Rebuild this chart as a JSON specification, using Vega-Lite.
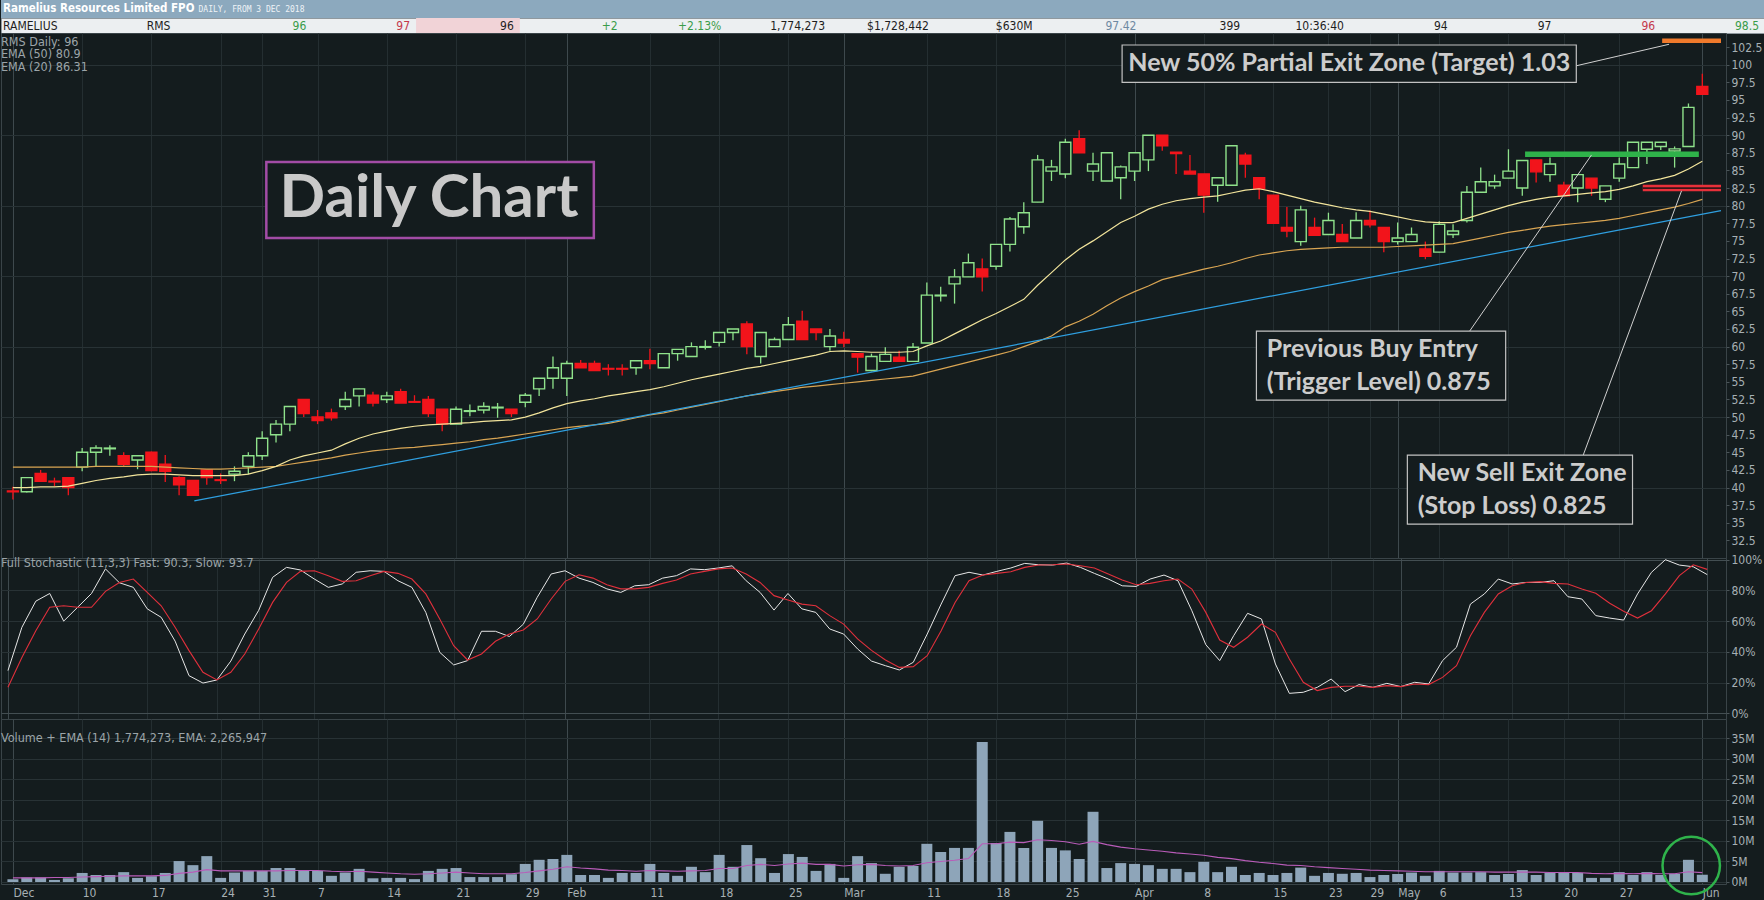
{
  "$schema": "https://vega.github.io/schema/vega-lite/v6.json",
  "background": "#141c1e",
  "padding": 0,
  "spacing": 0,
  "bounds": "flush",
  "datasets": {
    "heading": [
      {"part": "name", "col": "c0", "label": "Ramelius Resources Limited FPO"},
      {"part": "range", "col": "c2", "label": "DAILY, FROM 3 DEC 2018"}
    ],
    "quote": [
      {"col": "c0", "label": "RAMELIUS", "kind": "name", "tone": "flat"},
      {"col": "c1", "label": "RMS", "kind": "code", "tone": "flat"},
      {"col": "c2", "label": "96", "kind": "value", "tone": "up"},
      {"col": "c3", "label": "97", "kind": "value", "tone": "down"},
      {"col": "c4", "label": "96", "kind": "last", "tone": "flat"},
      {"col": "c5", "label": "+2", "kind": "value", "tone": "up"},
      {"col": "c6", "label": "+2.13%", "kind": "value", "tone": "up"},
      {"col": "c7", "label": "1,774,273", "kind": "value", "tone": "flat"},
      {"col": "c8", "label": "$1,728,442", "kind": "value", "tone": "flat"},
      {"col": "c9", "label": "$630M", "kind": "value", "tone": "flat"},
      {"col": "c10", "label": "97.42", "kind": "value", "tone": "avg"},
      {"col": "c11", "label": "399", "kind": "value", "tone": "flat"},
      {"col": "c12", "label": "10:36:40", "kind": "value", "tone": "flat"},
      {"col": "c13", "label": "94", "kind": "value", "tone": "flat"},
      {"col": "c14", "label": "97", "kind": "value", "tone": "flat"},
      {"col": "c15", "label": "96", "kind": "value", "tone": "down"},
      {"col": "c16", "label": "98.5", "kind": "value", "tone": "up"}
    ],
    "bars": [
      {"day":0,"open":39.5,"high":40.1,"low":38.3,"close":39.4,"ema20":40.0,"ema50":42.9,"k":27.8,"d":17,"vol":0.65,"vema":1.0},
      {"day":1,"open":39.4,"high":41.5,"low":39.3,"close":41.4,"ema20":40.0,"ema50":42.9,"k":56,"d":36.4,"vol":1.1,"vema":1.0},
      {"day":2,"open":42.0,"high":42.5,"low":40.8,"close":40.9,"ema20":40.1,"ema50":42.9,"k":73,"d":53.8,"vol":1.1,"vema":1.0},
      {"day":3,"open":40.9,"high":41.4,"low":40.2,"close":40.8,"ema20":40.1,"ema50":42.9,"k":78,"d":69,"vol":0.5,"vema":1.1},
      {"day":4,"open":41.4,"high":41.5,"low":38.9,"close":40.0,"ema20":40.2,"ema50":42.9,"k":60,"d":70,"vol":0.9,"vema":1.1},
      {"day":5,"open":42.9,"high":45.6,"low":42.3,"close":45.0,"ema20":40.6,"ema50":42.9,"k":69,"d":69,"vol":2.2,"vema":1.2},
      {"day":6,"open":45.0,"high":46.0,"low":42.9,"close":45.6,"ema20":41.0,"ema50":43.0,"k":78,"d":69,"vol":1.7,"vema":1.3},
      {"day":7,"open":45.5,"high":46.0,"low":44.5,"close":45.6,"ema20":41.3,"ema50":43.0,"k":94,"d":79.4,"vol":1.7,"vema":1.4},
      {"day":8,"open":44.5,"high":45.0,"low":42.9,"close":43.3,"ema20":41.5,"ema50":43.0,"k":85,"d":85.2,"vol":2.4,"vema":1.5},
      {"day":9,"open":43.9,"high":44.6,"low":42.6,"close":44.5,"ema20":41.8,"ema50":43.0,"k":82,"d":87.4,"vol":1.0,"vema":1.5},
      {"day":10,"open":45.0,"high":45.1,"low":42.3,"close":42.4,"ema20":41.9,"ema50":43.0,"k":68,"d":78.7,"vol":1.4,"vema":1.5},
      {"day":11,"open":43.3,"high":44.6,"low":40.8,"close":42.3,"ema20":41.9,"ema50":42.9,"k":62.5,"d":70,"vol":2.2,"vema":1.6},
      {"day":12,"open":41.4,"high":41.6,"low":38.9,"close":40.4,"ema20":41.8,"ema50":42.8,"k":47,"d":56,"vol":5.1,"vema":2.1},
      {"day":13,"open":41.0,"high":41.0,"low":38.9,"close":38.9,"ema20":41.7,"ema50":42.7,"k":24.5,"d":40.8,"vol":4.1,"vema":2.4},
      {"day":14,"open":42.5,"high":42.5,"low":40.4,"close":41.4,"ema20":41.7,"ema50":42.6,"k":19.7,"d":26.7,"vol":6.3,"vema":3.0},
      {"day":15,"open":41.1,"high":42.0,"low":40.5,"close":41.0,"ema20":41.7,"ema50":42.6,"k":21.7,"d":21.7,"vol":1.0,"vema":2.7},
      {"day":16,"open":41.9,"high":43.0,"low":40.9,"close":42.3,"ema20":41.7,"ema50":42.7,"k":34,"d":26.7,"vol":2.3,"vema":2.7},
      {"day":17,"open":43.0,"high":45.0,"low":41.9,"close":44.5,"ema20":41.9,"ema50":42.8,"k":51.6,"d":38.6,"vol":2.7,"vema":2.7},
      {"day":18,"open":44.5,"high":48.0,"low":43.9,"close":47.0,"ema20":42.4,"ema50":42.9,"k":67,"d":54.9,"vol":2.7,"vema":2.7},
      {"day":19,"open":47.5,"high":49.6,"low":46.4,"close":49.0,"ema20":43.0,"ema50":43.0,"k":88.5,"d":72.2,"vol":3.4,"vema":2.7},
      {"day":20,"open":49.0,"high":51.5,"low":48.0,"close":51.5,"ema20":43.9,"ema50":43.3,"k":95,"d":85.2,"vol":3.4,"vema":2.8},
      {"day":21,"open":52.5,"high":52.5,"low":50.0,"close":50.5,"ema20":44.5,"ema50":43.6,"k":93.3,"d":92.4,"vol":2.9,"vema":2.8},
      {"day":22,"open":50.0,"high":51.0,"low":49.0,"close":49.5,"ema20":44.9,"ema50":43.9,"k":87.4,"d":92.8,"vol":2.7,"vema":2.8},
      {"day":23,"open":50.6,"high":51.2,"low":49.5,"close":49.9,"ema20":45.3,"ema50":44.2,"k":82,"d":89.6,"vol":1.5,"vema":2.6},
      {"day":24,"open":51.5,"high":53.6,"low":51.0,"close":52.5,"ema20":46.2,"ema50":44.6,"k":84.2,"d":85.9,"vol":2.3,"vema":2.5},
      {"day":25,"open":53.0,"high":54.0,"low":51.5,"close":54.0,"ema20":47.0,"ema50":44.9,"k":91.8,"d":86.3,"vol":3.2,"vema":2.6},
      {"day":26,"open":53.1,"high":53.6,"low":51.5,"close":52.0,"ema20":47.6,"ema50":45.2,"k":92.8,"d":89.6,"vol":0.9,"vema":2.4},
      {"day":27,"open":52.5,"high":53.6,"low":52.0,"close":53.0,"ema20":48.0,"ema50":45.4,"k":92.4,"d":92.4,"vol":1.0,"vema":2.2},
      {"day":28,"open":53.6,"high":54.0,"low":52.0,"close":52.0,"ema20":48.4,"ema50":45.6,"k":86.3,"d":91.1,"vol":1.0,"vema":2.0},
      {"day":29,"open":52.2,"high":53.1,"low":52.0,"close":52.1,"ema20":48.7,"ema50":45.7,"k":82,"d":87.4,"vol":0.7,"vema":1.9},
      {"day":30,"open":52.5,"high":53.0,"low":50.0,"close":50.5,"ema20":48.9,"ema50":45.9,"k":65.7,"d":77.7,"vol":2.7,"vema":2.0},
      {"day":31,"open":51.1,"high":51.1,"low":48.0,"close":49.0,"ema20":49.0,"ema50":46.1,"k":39.7,"d":61.4,"vol":3.2,"vema":2.2},
      {"day":32,"open":49.0,"high":51.5,"low":49.0,"close":51.1,"ema20":49.1,"ema50":46.3,"k":31.5,"d":44,"vol":3.4,"vema":2.4},
      {"day":33,"open":50.8,"high":51.8,"low":50.1,"close":50.9,"ema20":49.2,"ema50":46.5,"k":34.3,"d":34.7,"vol":1.2,"vema":2.2},
      {"day":34,"open":51.0,"high":52.1,"low":50.5,"close":51.5,"ema20":49.4,"ema50":46.8,"k":53.4,"d":38.6,"vol":1.2,"vema":2.0},
      {"day":35,"open":51.3,"high":52.0,"low":49.9,"close":51.4,"ema20":49.5,"ema50":47.0,"k":53.4,"d":46.9,"vol":1.2,"vema":2.0},
      {"day":36,"open":51.1,"high":51.1,"low":50.0,"close":50.5,"ema20":49.6,"ema50":47.3,"k":50,"d":51.6,"vol":1.9,"vema":2.0},
      {"day":37,"open":52.1,"high":53.4,"low":51.4,"close":53.1,"ema20":50.0,"ema50":47.6,"k":58,"d":54.2,"vol":4.4,"vema":2.3},
      {"day":38,"open":54.0,"high":55.5,"low":53.0,"close":55.5,"ema20":50.6,"ema50":47.9,"k":75.5,"d":61.4,"vol":5.4,"vema":2.7},
      {"day":39,"open":55.5,"high":58.6,"low":54.0,"close":57.0,"ema20":51.3,"ema50":48.2,"k":90.7,"d":74.4,"vol":5.6,"vema":3.1},
      {"day":40,"open":55.5,"high":58.0,"low":53.0,"close":57.6,"ema20":51.9,"ema50":48.5,"k":92.8,"d":85.9,"vol":6.6,"vema":3.7},
      {"day":41,"open":57.6,"high":58.1,"low":57.0,"close":57.0,"ema20":52.3,"ema50":48.7,"k":88,"d":90.2,"vol":1.7,"vema":3.4},
      {"day":42,"open":57.6,"high":58.0,"low":56.6,"close":56.6,"ema20":52.6,"ema50":48.9,"k":85.2,"d":88,"vol":1.7,"vema":3.2},
      {"day":43,"open":56.9,"high":57.5,"low":55.9,"close":56.8,"ema20":53.0,"ema50":49.1,"k":81,"d":83.7,"vol":1.0,"vema":2.9},
      {"day":44,"open":56.9,"high":57.5,"low":55.9,"close":56.8,"ema20":53.3,"ema50":49.5,"k":78.7,"d":81,"vol":2.2,"vema":2.8},
      {"day":45,"open":57.0,"high":58.0,"low":56.0,"close":58.0,"ema20":53.6,"ema50":49.9,"k":83,"d":81,"vol":2.2,"vema":2.6},
      {"day":46,"open":58.0,"high":59.7,"low":56.8,"close":57.6,"ema20":53.9,"ema50":50.3,"k":83.7,"d":82,"vol":4.4,"vema":2.8},
      {"day":47,"open":57.0,"high":59.0,"low":57.0,"close":59.0,"ema20":54.3,"ema50":50.6,"k":88,"d":84.6,"vol":2.2,"vema":2.7},
      {"day":48,"open":59.0,"high":59.6,"low":58.0,"close":59.6,"ema20":54.8,"ema50":51.0,"k":89.6,"d":86.8,"vol":1.5,"vema":2.6},
      {"day":49,"open":58.6,"high":60.6,"low":58.6,"close":60.0,"ema20":55.3,"ema50":51.4,"k":94,"d":90.7,"vol":3.7,"vema":2.7},
      {"day":50,"open":59.9,"high":60.9,"low":59.6,"close":60.0,"ema20":55.7,"ema50":51.8,"k":93.5,"d":92.4,"vol":2.4,"vema":2.8},
      {"day":51,"open":60.6,"high":62.0,"low":60.0,"close":62.0,"ema20":56.1,"ema50":52.2,"k":94.6,"d":94,"vol":6.6,"vema":3.3},
      {"day":52,"open":62.0,"high":62.5,"low":60.9,"close":62.5,"ema20":56.5,"ema50":52.6,"k":96,"d":94.6,"vol":3.7,"vema":3.3},
      {"day":53,"open":63.2,"high":63.6,"low":58.9,"close":60.0,"ema20":56.9,"ema50":53.0,"k":86.3,"d":90.7,"vol":9.0,"vema":4.0},
      {"day":54,"open":58.6,"high":62.0,"low":57.6,"close":62.0,"ema20":57.2,"ema50":53.3,"k":78.7,"d":85.2,"vol":5.8,"vema":4.3},
      {"day":55,"open":60.0,"high":61.3,"low":60.0,"close":61.0,"ema20":57.6,"ema50":53.6,"k":67.2,"d":76.6,"vol":2.2,"vema":4.0},
      {"day":56,"open":61.0,"high":64.2,"low":61.0,"close":63.1,"ema20":58.0,"ema50":53.9,"k":78,"d":73.8,"vol":6.8,"vema":4.4},
      {"day":57,"open":63.6,"high":65.1,"low":61.0,"close":61.0,"ema20":58.4,"ema50":54.2,"k":68,"d":71.1,"vol":6.1,"vema":4.6},
      {"day":58,"open":62.5,"high":62.5,"low":60.9,"close":62.0,"ema20":58.8,"ema50":54.4,"k":65.7,"d":70,"vol":2.7,"vema":4.3},
      {"day":59,"open":60.0,"high":62.5,"low":59.4,"close":61.5,"ema20":59.3,"ema50":54.6,"k":54.9,"d":63.6,"vol":4.4,"vema":4.3},
      {"day":60,"open":61.0,"high":62.1,"low":59.9,"close":60.5,"ema20":59.4,"ema50":54.8,"k":51.6,"d":58.1,"vol":1.0,"vema":3.9},
      {"day":61,"open":59.0,"high":59.0,"low":56.3,"close":58.5,"ema20":59.3,"ema50":55.0,"k":41.9,"d":48.4,"vol":6.3,"vema":4.2},
      {"day":62,"open":56.6,"high":59.0,"low":56.5,"close":58.6,"ema20":59.2,"ema50":55.2,"k":34,"d":41,"vol":4.6,"vema":4.3},
      {"day":63,"open":57.9,"high":59.9,"low":57.9,"close":58.9,"ema20":59.2,"ema50":55.4,"k":31,"d":34.7,"vol":2.0,"vema":4.0},
      {"day":64,"open":58.5,"high":59.4,"low":57.9,"close":57.9,"ema20":59.2,"ema50":55.6,"k":28.2,"d":29.9,"vol":3.7,"vema":3.9},
      {"day":65,"open":57.9,"high":60.5,"low":57.9,"close":59.9,"ema20":59.3,"ema50":55.8,"k":33.2,"d":30.4,"vol":3.9,"vema":4.0},
      {"day":66,"open":60.5,"high":69.1,"low":60.5,"close":67.3,"ema20":60.1,"ema50":56.3,"k":51.6,"d":37.5,"vol":9.3,"vema":4.7},
      {"day":67,"open":67.2,"high":68.5,"low":66.4,"close":67.3,"ema20":60.8,"ema50":56.8,"k":71.1,"d":53.8,"vol":7.3,"vema":5.0},
      {"day":68,"open":68.9,"high":71.0,"low":66.1,"close":69.9,"ema20":61.8,"ema50":57.3,"k":89.6,"d":72.2,"vol":8.3,"vema":5.3},
      {"day":69,"open":69.9,"high":73.2,"low":69.9,"close":71.9,"ema20":62.8,"ema50":57.8,"k":91.8,"d":86.3,"vol":8.3,"vema":5.7},
      {"day":70,"open":71.0,"high":72.5,"low":67.8,"close":69.9,"ema20":63.8,"ema50":58.3,"k":90,"d":90,"vol":34.1,"vema":9.3},
      {"day":71,"open":71.4,"high":74.5,"low":70.9,"close":74.5,"ema20":64.7,"ema50":58.8,"k":92.4,"d":91.1,"vol":9.5,"vema":9.3},
      {"day":72,"open":74.5,"high":78.4,"low":73.5,"close":78.1,"ema20":65.7,"ema50":59.3,"k":94.6,"d":92.2,"vol":12.2,"vema":9.7},
      {"day":73,"open":77.0,"high":80.5,"low":76.0,"close":79.0,"ema20":66.7,"ema50":60.0,"k":97.6,"d":95,"vol":8.3,"vema":9.6},
      {"day":74,"open":80.5,"high":87.2,"low":80.5,"close":86.5,"ema20":68.7,"ema50":60.7,"k":96.7,"d":96.5,"vol":14.9,"vema":10.3},
      {"day":75,"open":84.9,"high":86.5,"low":83.5,"close":85.5,"ema20":70.5,"ema50":61.5,"k":96.5,"d":96.7,"vol":8.3,"vema":10.1},
      {"day":76,"open":84.5,"high":89.5,"low":83.9,"close":89.0,"ema20":72.3,"ema50":62.8,"k":97.8,"d":97.2,"vol":7.7,"vema":9.8},
      {"day":77,"open":89.5,"high":90.7,"low":87.5,"close":87.5,"ema20":73.8,"ema50":63.6,"k":95,"d":96.1,"vol":5.6,"vema":9.2},
      {"day":78,"open":84.9,"high":87.5,"low":83.5,"close":85.9,"ema20":75.0,"ema50":64.6,"k":91.1,"d":94.6,"vol":17.1,"vema":9.9},
      {"day":79,"open":83.5,"high":87.5,"low":83.5,"close":87.5,"ema20":76.3,"ema50":65.8,"k":87.4,"d":90.7,"vol":3.4,"vema":9.1},
      {"day":80,"open":83.95,"high":85.7,"low":80.9,"close":85.5,"ema20":77.6,"ema50":66.9,"k":83,"d":86.8,"vol":4.6,"vema":8.5},
      {"day":81,"open":84.9,"high":87.5,"low":83.5,"close":87.5,"ema20":78.5,"ema50":67.8,"k":82.6,"d":83.7,"vol":4.4,"vema":8.1},
      {"day":82,"open":86.5,"high":90.0,"low":84.9,"close":90.0,"ema20":79.5,"ema50":68.6,"k":87.4,"d":84.6,"vol":4.1,"vema":7.8},
      {"day":83,"open":90.0,"high":90.0,"low":87.8,"close":88.5,"ema20":80.2,"ema50":69.5,"k":90,"d":86.3,"vol":3.2,"vema":7.5},
      {"day":84,"open":87.6,"high":87.6,"low":84.5,"close":87.4,"ema20":80.7,"ema50":70.0,"k":86.3,"d":87.4,"vol":3.2,"vema":7.1},
      {"day":85,"open":84.9,"high":87.2,"low":84.5,"close":84.5,"ema20":81.0,"ema50":70.5,"k":66.8,"d":80.9,"vol":2.4,"vema":6.8},
      {"day":86,"open":84.5,"high":84.5,"low":79.0,"close":81.5,"ema20":81.2,"ema50":71.0,"k":44.7,"d":65.7,"vol":4.9,"vema":6.5},
      {"day":87,"open":82.9,"high":83.95,"low":80.55,"close":83.95,"ema20":81.4,"ema50":71.4,"k":34.3,"d":47.7,"vol":2.4,"vema":6.0},
      {"day":88,"open":82.9,"high":88.5,"low":82.9,"close":88.5,"ema20":81.8,"ema50":71.9,"k":50.5,"d":43,"vol":3.7,"vema":5.7},
      {"day":89,"open":87.15,"high":87.5,"low":83.95,"close":85.9,"ema20":82.2,"ema50":72.5,"k":65.1,"d":49.5,"vol":1.7,"vema":5.2},
      {"day":90,"open":83.95,"high":83.95,"low":80.9,"close":82.4,"ema20":82.4,"ema50":73.0,"k":61.4,"d":58.1,"vol":2.2,"vema":4.8},
      {"day":91,"open":81.5,"high":81.5,"low":77.5,"close":77.5,"ema20":82.0,"ema50":73.3,"k":32.1,"d":52.7,"vol":1.7,"vema":4.5},
      {"day":92,"open":76.9,"high":79.8,"low":75.5,"close":76.4,"ema20":81.5,"ema50":73.6,"k":13,"d":35.4,"vol":2.2,"vema":4.1},
      {"day":93,"open":74.9,"high":80.0,"low":74.3,"close":79.4,"ema20":81.0,"ema50":73.8,"k":13.7,"d":20.2,"vol":3.5,"vema":4.0},
      {"day":94,"open":76.9,"high":78.3,"low":75.8,"close":75.8,"ema20":80.5,"ema50":73.9,"k":16.9,"d":14.8,"vol":1.5,"vema":3.7},
      {"day":95,"open":75.9,"high":79.0,"low":75.9,"close":77.9,"ema20":80.1,"ema50":74.0,"k":22.3,"d":16.9,"vol":2.2,"vema":3.5},
      {"day":96,"open":75.9,"high":77.4,"low":74.9,"close":74.9,"ema20":79.7,"ema50":74.1,"k":14.1,"d":17.6,"vol":2.0,"vema":3.3},
      {"day":97,"open":75.4,"high":79.05,"low":75.4,"close":77.9,"ema20":79.4,"ema50":74.1,"k":18.7,"d":17.6,"vol":2.2,"vema":3.1},
      {"day":98,"open":77.9,"high":79.3,"low":76.9,"close":77.3,"ema20":79.2,"ema50":74.1,"k":16.9,"d":16.9,"vol":1.2,"vema":2.9},
      {"day":99,"open":76.9,"high":76.9,"low":73.4,"close":74.9,"ema20":78.8,"ema50":74.1,"k":19.5,"d":18,"vol":1.7,"vema":2.8},
      {"day":100,"open":74.9,"high":77.6,"low":74.5,"close":75.4,"ema20":78.4,"ema50":74.2,"k":17.4,"d":17.4,"vol":1.95,"vema":2.7},
      {"day":101,"open":74.9,"high":76.9,"low":74.9,"close":75.9,"ema20":78.0,"ema50":74.3,"k":20.2,"d":19.1,"vol":2.3,"vema":2.6},
      {"day":102,"open":73.85,"high":74.9,"low":72.4,"close":72.8,"ema20":77.7,"ema50":74.4,"k":19.1,"d":18.7,"vol":1.5,"vema":2.5},
      {"day":103,"open":73.4,"high":77.8,"low":73.4,"close":77.35,"ema20":77.6,"ema50":74.5,"k":34.3,"d":23.4,"vol":2.7,"vema":2.5},
      {"day":104,"open":75.9,"high":77.35,"low":75.4,"close":76.4,"ema20":77.6,"ema50":74.6,"k":43,"d":31,"vol":2.3,"vema":2.5},
      {"day":105,"open":77.9,"high":82.8,"low":77.6,"close":81.9,"ema20":78.2,"ema50":75.0,"k":71.1,"d":50.5,"vol":2.3,"vema":2.5},
      {"day":106,"open":81.9,"high":85.4,"low":81.9,"close":83.4,"ema20":78.8,"ema50":75.4,"k":77.7,"d":65.7,"vol":2.4,"vema":2.5},
      {"day":107,"open":82.8,"high":84.4,"low":82.4,"close":83.4,"ema20":79.4,"ema50":75.8,"k":87.4,"d":77.7,"vol":1.7,"vema":2.4},
      {"day":108,"open":83.9,"high":88.0,"low":83.9,"close":84.9,"ema20":80.0,"ema50":76.2,"k":84.2,"d":83,"vol":1.95,"vema":2.4},
      {"day":109,"open":82.5,"high":86.4,"low":81.4,"close":86.4,"ema20":80.5,"ema50":76.5,"k":85.2,"d":85.2,"vol":2.9,"vema":2.4},
      {"day":110,"open":86.5,"high":86.5,"low":83.3,"close":84.8,"ema20":80.9,"ema50":76.8,"k":85.2,"d":85.7,"vol":1.7,"vema":2.4},
      {"day":111,"open":84.4,"high":86.85,"low":83.4,"close":85.9,"ema20":81.2,"ema50":77.1,"k":86.3,"d":84.6,"vol":2.2,"vema":2.3},
      {"day":112,"open":82.9,"high":83.4,"low":81.4,"close":81.4,"ema20":81.4,"ema50":77.3,"k":75.9,"d":84.2,"vol":2.4,"vema":2.3},
      {"day":113,"open":82.5,"high":84.4,"low":80.5,"close":84.4,"ema20":81.6,"ema50":77.5,"k":74.4,"d":80.9,"vol":2.2,"vema":2.3},
      {"day":114,"open":83.9,"high":83.9,"low":81.4,"close":82.5,"ema20":81.8,"ema50":77.7,"k":63.6,"d":78.1,"vol":1.0,"vema":2.1},
      {"day":115,"open":80.9,"high":82.8,"low":80.5,"close":82.8,"ema20":82.0,"ema50":77.9,"k":62,"d":71.6,"vol":1.0,"vema":2.0},
      {"day":116,"open":83.9,"high":86.85,"low":83.4,"close":85.9,"ema20":82.3,"ema50":78.2,"k":60.7,"d":66.4,"vol":2.4,"vema":2.1},
      {"day":117,"open":85.4,"high":89.0,"low":85.4,"close":89.0,"ema20":82.8,"ema50":78.6,"k":77.7,"d":62,"vol":1.7,"vema":2.0},
      {"day":118,"open":88.0,"high":89.0,"low":85.9,"close":89.0,"ema20":83.4,"ema50":79.0,"k":91.8,"d":66.8,"vol":2.4,"vema":2.1},
      {"day":119,"open":88.4,"high":89.0,"low":87.9,"close":89.0,"ema20":83.8,"ema50":79.4,"k":100,"d":77.7,"vol":1.7,"vema":2.0},
      {"day":120,"open":87.75,"high":88.4,"low":85.4,"close":88.05,"ema20":84.3,"ema50":79.8,"k":96.5,"d":89.6,"vol":2.0,"vema":2.0},
      {"day":121,"open":88.4,"high":94.5,"low":88.4,"close":93.95,"ema20":85.2,"ema50":80.3,"k":95.4,"d":96.7,"vol":5.4,"vema":2.5},
      {"day":122,"open":96.9,"high":98.7,"low":95.8,"close":95.8,"ema20":86.3,"ema50":80.9,"k":90.3,"d":93.7,"vol":1.77,"vema":2.27}
    ],
    "trend": [
      {"day": 13.1, "price": 38.1},
      {"day": 123.35, "price": 79.3}
    ],
    "zones": [
      {"zone": "Target 1.03", "day": 119.1, "day2": 123.35, "price": 103.4},
      {"zone": "Trigger 0.875", "day": 109.2, "day2": 121.75, "price": 87.3},
      {"zone": "Stop 0.825", "day": 117.7, "day2": 123.35, "price": 82.5}
    ],
    "links": [
      {"zone": "Target 1.03", "day": 112.9, "price": 99.85, "day2": 119.6, "price2": 102.9},
      {"zone": "Trigger 0.875", "day": 105.2, "price": 62.2, "day2": 114.0, "price2": 87.2},
      {"zone": "Stop 0.825", "day": 113.4, "price": 44.6, "day2": 120.5, "price2": 82.1}
    ],
    "notes": [
      {"label": "Daily Chart", "day": 30.05, "price": 81.0, "left": 18.3, "right": 41.95, "bottom": 75.4, "top": 86.2},
      {"label": "New 50% Partial Exit Zone (Target) 1.03", "day": 96.5, "price": 100.2, "left": 80.1, "right": 112.9, "bottom": 97.5, "top": 102.8},
      {"label": "Previous Buy Entry\n(Trigger Level) 0.875", "day": 90.55, "price": 59.7, "left": 89.8, "right": 107.8, "bottom": 52.4, "top": 62.2},
      {"label": "New Sell Exit Zone\n(Stop Loss) 0.825", "day": 101.45, "price": 42.1, "left": 100.7, "right": 116.96, "bottom": 34.8, "top": 44.6}
    ],
    "watch": [
      {"label": "volume spike", "day": 121.2, "vol": 4.0}
    ]
  },
  "vconcat": [
    {
      "width": 1764,
      "height": 18,
      "view": {"fill": "#8ca9be", "stroke": null},
      "data": {"name": "heading"},
      "encoding": {
        "x": {"field": "col", "type": "ordinal", "bandPosition": 0,
              "scale": {"type": "band", "domain": ["c0","c1","c2","c3","c4","c5","c6","c7","c8","c9","c10","c11","c12","c13","c14","c15","c16"], "paddingInner": 0, "paddingOuter": 0},
              "axis": null}
      },
      "layer": [
        {
          "transform": [{"filter": "datum.part == 'name'"}],
          "mark": {"type": "text", "align": "left", "baseline": "middle", "dx": 2, "font": "Liberation Sans Narrow, DejaVu Sans Condensed, sans-serif", "fontSize": 11.5, "fontWeight": "bold", "color": "#ffffff"},
          "encoding": {"text": {"field": "label"}}
        },
        {
          "transform": [{"filter": "datum.part == 'range'"}],
          "mark": {"type": "text", "align": "left", "baseline": "middle", "dx": -10, "dy": 1, "font": "DejaVu Sans Mono", "fontSize": 8, "color": "#eef3f7"},
          "encoding": {"text": {"field": "label"}}
        }
      ]
    },
    {
      "width": 1764,
      "height": 15,
      "view": {"fill": "#eceff1", "stroke": "#8f989e"},
      "data": {"name": "quote"},
      "layer": [
        {
          "transform": [{"filter": "datum.kind == 'last'"}],
          "mark": {"type": "rect", "color": "#f1d3d7"},
          "encoding": {
            "x": {"field": "col", "type": "ordinal",
                  "scale": {"type": "band", "domain": ["c0","c1","c2","c3","c4","c5","c6","c7","c8","c9","c10","c11","c12","c13","c14","c15","c16"], "paddingInner": 0, "paddingOuter": 0},
                  "axis": null}
          }
        },
        {
          "transform": [{"filter": "datum.kind == 'name'"}],
          "mark": {"type": "text", "align": "left", "baseline": "middle", "dx": 2, "font": "Liberation Sans Narrow, DejaVu Sans Condensed, sans-serif", "fontSize": 12},
          "encoding": {
            "x": {"field": "col", "type": "ordinal", "bandPosition": 0,
                  "scale": {"type": "band", "domain": ["c0","c1","c2","c3","c4","c5","c6","c7","c8","c9","c10","c11","c12","c13","c14","c15","c16"], "paddingInner": 0, "paddingOuter": 0},
                  "axis": null},
            "text": {"field": "label"},
            "color": {"value": "#1e1e1e"}
          }
        },
        {
          "transform": [{"filter": "datum.kind == 'code'"}],
          "mark": {"type": "text", "align": "left", "baseline": "middle", "dx": 42, "font": "Liberation Sans Narrow, DejaVu Sans Condensed, sans-serif", "fontSize": 12},
          "encoding": {
            "x": {"field": "col", "type": "ordinal", "bandPosition": 0,
                  "scale": {"type": "band", "domain": ["c0","c1","c2","c3","c4","c5","c6","c7","c8","c9","c10","c11","c12","c13","c14","c15","c16"], "paddingInner": 0, "paddingOuter": 0},
                  "axis": null},
            "text": {"field": "label"},
            "color": {"value": "#1e1e1e"}
          }
        },
        {
          "transform": [{"filter": "datum.kind == 'value' || datum.kind == 'last'"}],
          "mark": {"type": "text", "align": "right", "baseline": "middle", "dx": -6, "font": "Liberation Sans Narrow, DejaVu Sans Condensed, sans-serif", "fontSize": 12},
          "encoding": {
            "x": {"field": "col", "type": "ordinal", "bandPosition": 1,
                  "scale": {"type": "band", "domain": ["c0","c1","c2","c3","c4","c5","c6","c7","c8","c9","c10","c11","c12","c13","c14","c15","c16"], "paddingInner": 0, "paddingOuter": 0},
                  "axis": null},
            "text": {"field": "label"},
            "color": {"field": "tone", "type": "nominal", "scale": {"domain": ["up","down","flat","avg"], "range": ["#3a9c49","#c4384b","#1e1e1e","#6e89a2"]}, "legend": null}
          }
        }
      ]
    },
    {
      "width": 1725,
      "height": 525,
      "title": {"text": ["RMS Daily: 96", "EMA (50) 80.9", "EMA (20) 86.31"], "anchor": "start", "orient": "top", "offset": -40, "lineHeight": 12.5, "font": "Liberation Sans Narrow, DejaVu Sans Condensed, sans-serif", "fontSize": 12.5, "fontWeight": "normal", "color": "#9ca5a9"},
      "encoding": {
        "x": {"field": "day", "type": "quantitative", "title": null,
              "scale": {"domain": [-0.5, 123.35], "nice": false, "zero": false},
              "axis": {"values": [0,5,10,15,18,22,27,32,37,40,46,51,56,60,66,71,76,81,86,91,95,98,100,103,108,112,116,122], "labels": false, "ticks": false, "domain": false, "grid": true,
                       "gridColor": {"condition": {"test": "indexof([0,40,60,81,100,122], datum.value) >= 0", "value": "#3e494d"}, "value": "#242e31"}}},
        "y": {"field": "price", "type": "quantitative", "title": null,
              "scale": {"domain": [30, 104.5], "nice": false, "zero": false},
              "axis": {"orient": "right", "values": [32.5,35,37.5,40,42.5,45,47.5,50,52.5,55,57.5,60,62.5,65,67.5,70,72.5,75,77.5,80,82.5,85,87.5,90,92.5,95,97.5,100,102.5], "format": ".1~f", "domain": false, "ticks": true, "tickSize": 3, "labelPadding": 2, "labelOverlap": false, "labelBound": false, "grid": true, "gridColor": "#283235",
                       "gridOpacity": {"condition": {"test": "datum.value % 10 == 0", "value": 1}, "value": 0}}}
      },
      "layer": [
        {
          "data": {"name": "bars"},
          "mark": {"type": "rule", "strokeWidth": 1.3},
          "encoding": {
            "y": {"field": "low", "type": "quantitative", "title": null},
            "y2": {"field": "high"},
            "color": {"condition": {"test": "datum.close >= datum.open", "value": "#8fe28b"}, "value": "#f2141b"}
          }
        },
        {
          "data": {"name": "bars"},
          "mark": {"type": "bar", "size": 11, "strokeWidth": 1.4},
          "encoding": {
            "y": {"field": "open", "type": "quantitative", "title": null},
            "y2": {"field": "close"},
            "fill": {"condition": {"test": "datum.close >= datum.open", "value": "#141c1e"}, "value": "#f2141b"},
            "stroke": {"condition": {"test": "datum.close >= datum.open", "value": "#8fe28b"}, "value": "#f2141b"}
          }
        },
        {
          "data": {"name": "bars"},
          "mark": {"type": "line", "color": "#d9a553", "strokeWidth": 1.2},
          "encoding": {"y": {"field": "ema50", "type": "quantitative", "title": null}}
        },
        {
          "data": {"name": "bars"},
          "mark": {"type": "line", "color": "#f3e59c", "strokeWidth": 1.2},
          "encoding": {"y": {"field": "ema20", "type": "quantitative", "title": null}}
        },
        {
          "data": {"name": "trend"},
          "mark": {"type": "line", "color": "#2f9fe0", "strokeWidth": 1.2}
        },
        {
          "data": {"name": "zones"},
          "transform": [{"filter": "datum.zone == 'Target 1.03'"}],
          "mark": {"type": "rule", "strokeWidth": 4.5, "color": "#f07a2c"},
          "encoding": {"x2": {"field": "day2"}}
        },
        {
          "data": {"name": "zones"},
          "transform": [{"filter": "datum.zone == 'Trigger 0.875'"}],
          "mark": {"type": "rule", "strokeWidth": 5.5, "color": "#2fb24a"},
          "encoding": {"x2": {"field": "day2"}}
        },
        {
          "data": {"name": "zones"},
          "transform": [{"filter": "datum.zone == 'Stop 0.825'"}],
          "mark": {"type": "rule", "strokeWidth": 6.5, "color": "#e8303a"},
          "encoding": {"x2": {"field": "day2"}}
        },
        {
          "data": {"name": "zones"},
          "transform": [{"filter": "datum.zone == 'Stop 0.825'"}],
          "mark": {"type": "rule", "strokeWidth": 1.8, "color": "#3a1518"},
          "encoding": {"x2": {"field": "day2"}}
        },
        {
          "data": {"name": "links"},
          "mark": {"type": "rule", "strokeWidth": 1, "color": "#d0d0d0"},
          "encoding": {"x2": {"field": "day2"}, "y2": {"field": "price2"}}
        },
        {
          "data": {"name": "notes"},
          "mark": {"type": "rect", "fill": "#141c1e"},
          "encoding": {
            "x": {"field": "left", "type": "quantitative", "title": null},
            "x2": {"field": "right"},
            "y": {"field": "bottom", "type": "quantitative", "title": null},
            "y2": {"field": "top"},
            "stroke": {"condition": {"test": "datum.label == 'Daily Chart'", "value": "#a24ca6"}, "value": "#c2c2c2"},
            "strokeWidth": {"condition": {"test": "datum.label == 'Daily Chart'", "value": 2.5}, "value": 1.2}
          }
        },
        {
          "data": {"name": "notes"},
          "transform": [{"filter": "datum.label == 'Daily Chart'"}],
          "mark": {"type": "text", "align": "center", "baseline": "middle", "font": "Lato", "fontWeight": "bold", "fontSize": 60, "color": "#c9c9c9"},
          "encoding": {"text": {"field": "label"}}
        },
        {
          "data": {"name": "notes"},
          "transform": [{"filter": "indexof(datum.label, 'Target') >= 0"}],
          "mark": {"type": "text", "align": "center", "baseline": "middle", "font": "Lato", "fontWeight": "bold", "fontSize": 25, "color": "#cccccc"},
          "encoding": {"text": {"field": "label"}}
        },
        {
          "data": {"name": "notes"},
          "transform": [{"filter": "datum.label != 'Daily Chart' && indexof(datum.label, 'Target') < 0"}],
          "mark": {"type": "text", "align": "left", "baseline": "middle", "lineBreak": "\n", "lineHeight": 33, "font": "Lato", "fontWeight": "bold", "fontSize": 25, "color": "#cccccc"},
          "encoding": {"text": {"field": "label"}}
        }
      ]
    },
    {
      "width": 1725,
      "height": 161,
      "title": {"text": "Full Stochastic (11,3,3) Fast: 90.3, Slow: 93.7", "anchor": "start", "orient": "top", "offset": -16, "font": "Liberation Sans Narrow, DejaVu Sans Condensed, sans-serif", "fontSize": 12.5, "fontWeight": "normal", "color": "#9ca5a9"},
      "data": {"name": "bars"},
      "encoding": {
        "x": {"field": "day", "type": "quantitative", "title": null,
              "scale": {"domain": [-0.5, 123.35], "nice": false, "zero": false},
              "axis": {"values": [0,5,10,15,18,22,27,32,37,40,46,51,56,60,66,71,76,81,86,91,95,98,100,103,108,112,116,122], "labels": false, "ticks": false, "domain": false, "grid": true,
                       "gridColor": {"condition": {"test": "indexof([0,40,60,81,100,122], datum.value) >= 0", "value": "#3e494d"}, "value": "#242e31"}}},
        "y": {"field": "k", "type": "quantitative", "title": null,
              "scale": {"domain": [-3.7, 101.1], "nice": false, "zero": false},
              "axis": {"orient": "right", "values": [0,20,40,60,80,100], "format": "d", "labelExpr": "datum.label + '%'", "domain": false, "ticks": true, "tickSize": 3, "labelPadding": 2, "labelOverlap": false, "labelBound": false, "labelSeparation": 0, "grid": true,
                       "gridColor": {"condition": {"test": "datum.value == 0 || datum.value == 100", "value": "#434e52"}, "value": "#283235"}}}
      },
      "layer": [
        {
          "mark": {"type": "line", "color": "#e6e6e6", "strokeWidth": 1}
        },
        {
          "mark": {"type": "line", "color": "#e0303c", "strokeWidth": 1.1},
          "encoding": {"y": {"field": "d", "type": "quantitative", "title": null}}
        }
      ]
    },
    {
      "width": 1725,
      "height": 165,
      "title": {"text": "Volume + EMA (14) 1,774,273, EMA: 2,265,947", "anchor": "start", "orient": "top", "offset": -25, "font": "Liberation Sans Narrow, DejaVu Sans Condensed, sans-serif", "fontSize": 12.5, "fontWeight": "normal", "color": "#9ca5a9"},
      "encoding": {
        "x": {"field": "day", "type": "quantitative", "title": null,
              "scale": {"domain": [-0.5, 123.35], "nice": false, "zero": false},
              "axis": {"values": [0,5,10,15,18,22,27,32,37,40,46,51,56,60,66,71,76,81,86,91,95,98,100,103,108,112,116,122],
                       "labelExpr": "['Dec','10','17','24','31','7','14','21','29','Feb','11','18','25','Mar','11','18','25','Apr','8','15','23','29','May','6','13','20','27','Jun'][indexof([0,5,10,15,18,22,27,32,37,40,46,51,56,60,66,71,76,81,86,91,95,98,100,103,108,112,116,122], datum.value)]",
                       "labelAlign": "left", "labelBaseline": "top", "labelPadding": 3, "labelOverlap": false, "labelFlush": false, "labelBound": false,
                       "ticks": false, "domain": false, "grid": true,
                       "gridColor": {"condition": {"test": "indexof([0,40,60,81,100,122], datum.value) >= 0", "value": "#3e494d"}, "value": "#242e31"}}},
        "y": {"field": "vol", "type": "quantitative", "title": null,
              "scale": {"domain": [-0.49, 39.7], "nice": false},
              "axis": {"orient": "right", "values": [0,5,10,15,20,25,30,35], "format": "d", "labelExpr": "datum.label + 'M'", "domain": false, "ticks": true, "tickSize": 3, "labelPadding": 2, "labelOverlap": false, "labelBound": false, "labelSeparation": 0, "grid": true, "gridColor": "#283235"}}
      },
      "layer": [
        {
          "data": {"name": "bars"},
          "mark": {"type": "bar", "size": 11, "color": "#8ea5b9"}
        },
        {
          "data": {"name": "bars"},
          "mark": {"type": "line", "color": "#b95cb9", "strokeWidth": 1.1},
          "encoding": {"y": {"field": "vema", "type": "quantitative", "title": null}}
        },
        {
          "data": {"name": "watch"},
          "mark": {"type": "point", "shape": "circle", "filled": false, "size": 3300, "strokeWidth": 2.5, "color": "#2fb34b", "opacity": 1}
        }
      ]
    }
  ],
  "config": {
    "view": {"stroke": "#3a4448"},
    "axis": {"labelFont": "Liberation Sans Narrow, DejaVu Sans Condensed, sans-serif", "labelFontSize": 12, "labelColor": "#a7b0b4", "tickColor": "#4a5458"}
  }
}
